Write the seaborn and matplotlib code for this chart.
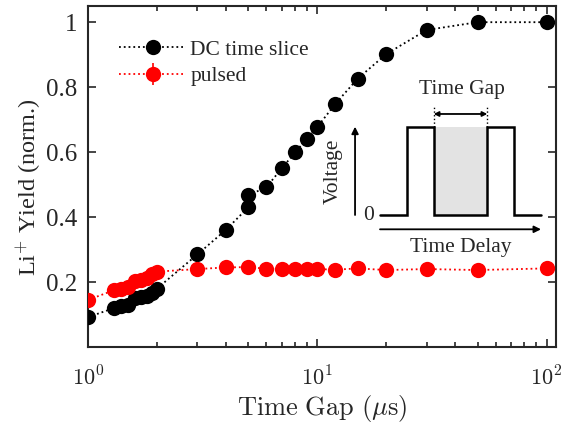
import numpy as np
import pandas as pd
import seaborn as sns
import matplotlib
matplotlib.use('Agg')
import matplotlib.pyplot as plt
from matplotlib.ticker import FixedLocator, FuncFormatter, LogLocator, NullFormatter
from matplotlib.lines import Line2D

# DC time slice data
dc_gap = [1, 1.3, 1.4, 1.5, 1.6, 1.7, 1.8, 1.9, 2, 3, 4, 5, 5, 6, 7, 8, 9, 10, 12, 15, 20, 30, 50, 100]
dc_yield = [0.092, 0.12, 0.125, 0.13, 0.15, 0.155, 0.157, 0.165, 0.18, 0.285, 0.361, 0.43, 0.467,
            0.492, 0.55, 0.599, 0.641, 0.677, 0.749, 0.826, 0.902, 0.976, 1.0, 1.0]

# pulsed data
pulsed_gap = [1, 1.3, 1.4, 1.5, 1.6, 1.7, 1.8, 1.9, 2, 3, 4, 5, 6, 7, 8, 9, 10, 12, 15, 20, 30, 50, 100]
pulsed_yield = [0.145, 0.175, 0.178, 0.185, 0.203, 0.205, 0.212, 0.225, 0.232, 0.240, 0.245, 0.246,
                0.241, 0.240, 0.241, 0.241, 0.240, 0.238, 0.242, 0.237, 0.240, 0.237, 0.242]
pulsed_err = [0.006] * len(pulsed_gap)

# inset schematic: two voltage pulses separated by the gap
pulse_t = [0, 1, 1, 2, 2, 4, 4, 5, 5, 6]
pulse_v = [0, 0, 1, 1, 0, 0, 1, 1, 0, 0]

sns.set_theme(style='ticks')
plt.rcParams['font.family'] = ['Liberation Serif', 'DejaVu Serif']
plt.rcParams['mathtext.fontset'] = 'cm'

fig = plt.figure(figsize=(5.63, 4.25), dpi=100)
ax = fig.add_axes([0.1563, 0.1835, 0.8313, 0.8025])

dc = pd.DataFrame({'gap': dc_gap, 'y': dc_yield})
sns.lineplot(data=dc, x='gap', y='y', ax=ax, estimator=None, sort=False,
             color='black', linestyle=':', linewidth=1.3, marker='o',
             markersize=11, markeredgewidth=0, zorder=3)
ax.errorbar(pulsed_gap, pulsed_yield, yerr=pulsed_err, color='red', linestyle=':',
            linewidth=1.3, marker='o', markersize=11, markeredgewidth=0,
            capsize=4.5, elinewidth=1.2, capthick=1.2, zorder=4)

ax.set_xscale('log')
ax.set_xlim(1, 110)
ax.set_ylim(0.0, 1.05)
ax.xaxis.set_major_locator(FixedLocator([1, 10, 100]))
ax.xaxis.set_major_formatter(FuncFormatter(lambda v, p: f'$10^{{{int(round(np.log10(v)))}}}$'))
ax.xaxis.set_minor_locator(LogLocator(base=10, subs=np.arange(2, 10)))
ax.xaxis.set_minor_formatter(NullFormatter())
ax.set_yticks([0.2, 0.4, 0.6, 0.8, 1.0])
ax.set_yticklabels(['0.2', '0.4', '0.6', '0.8', '1'])

ax.tick_params(which='both', direction='in', top=True, right=True, colors='#262626',
               labelcolor='#262626', width=1.2)
ax.tick_params(which='major', length=6)
ax.tick_params(which='minor', length=3.5)
ax.tick_params(axis='x', labelsize=16, pad=14)
ax.tick_params(axis='y', labelsize=18, pad=8)
for s in ax.spines.values():
    s.set_linewidth(1.5)
    s.set_color('#262626')

ax.set_xlabel(r'$\mathrm{Time\ Gap\ (}\mu\mathrm{s)}$', fontsize=19, color='#262626', labelpad=2)
ax.set_ylabel('Li$^{+}$ Yield (norm.)', fontsize=17.5, color='#262626')
ax.yaxis.set_label_coords(-0.095, 0.47)

h1 = Line2D([], [], color='black', linestyle=':', linewidth=1.3, marker='o', markersize=11,
            markeredgewidth=0)
h2 = ax.errorbar([], [], yerr=[], color='red', linestyle=':', linewidth=1.3, marker='o',
                 markersize=11, markeredgewidth=0, capsize=4.5, elinewidth=1.2, capthick=1.2)
ax.legend([h1, h2], ['DC time slice', 'pulsed'], loc='upper left', frameon=False,
          fontsize=15.5, bbox_to_anchor=(0.035, 0.945), handlelength=3.1, handletextpad=0.2,
          labelspacing=0.3, borderaxespad=0.3)

# inset schematic
ins = fig.add_axes([380 / 563, 1 - 215 / 425, 161 / 563, 88.3 / 425])
ins.set_xlim(0, 6)
ins.set_ylim(0, 1)
ins.axis('off')
ins.fill_between(pulse_t[3:7], 0, 1, color='#e3e3e3', linewidth=0)
ins.plot(pulse_t, pulse_v, color='black', linewidth=1.8, clip_on=False, solid_joinstyle='miter')
ins.annotate('', xy=(-0.93, 1.0), xytext=(-0.93, 0.0),
             arrowprops=dict(arrowstyle='-|>', color='black', lw=1.3, shrinkA=0, shrinkB=0,
                             mutation_scale=10), annotation_clip=False)
ins.annotate('', xy=(6.0, -0.162), xytext=(0.0, -0.162),
             arrowprops=dict(arrowstyle='-|>', color='black', lw=1.3, shrinkA=0, shrinkB=0,
                             mutation_scale=10), annotation_clip=False)
ins.annotate('', xy=(4.0, 1.144), xytext=(2.0, 1.144),
             arrowprops=dict(arrowstyle='<|-|>', color='black', lw=1.3, shrinkA=0, shrinkB=0,
                             mutation_scale=7), annotation_clip=False)
for t in (2, 4):
    ins.plot([t, t], [1.0, 1.25], color='black', linestyle=':', linewidth=1.0, clip_on=False)
ins.text(-0.41, 0.0, '0', ha='center', va='center', fontsize=15.5)
ins.text(-1.75, 0.5, 'Voltage', ha='center', va='center', rotation=90, fontsize=15.5)
ins.text(3.05, 1.42, 'Time Gap', ha='center', va='center', fontsize=15.5)
ins.text(3.0, -0.37, 'Time Delay', ha='center', va='center', fontsize=15.5)

fig.savefig('out.png', dpi=100)
